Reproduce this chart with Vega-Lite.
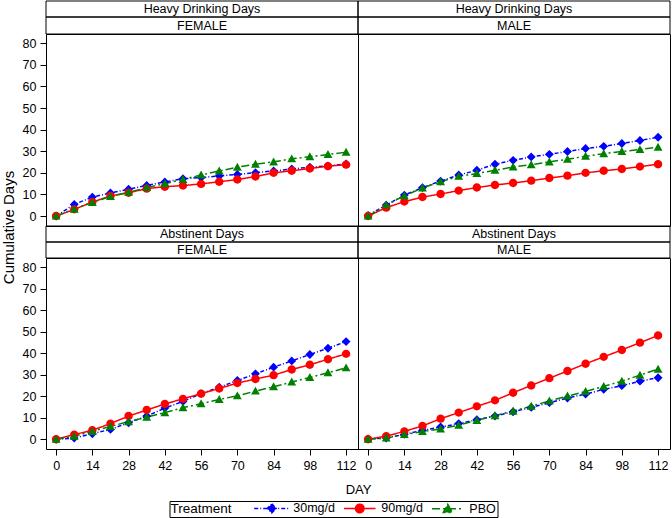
{
  "$schema": "https://vega.github.io/schema/vega-lite/v6.json",
  "padding": {"left": 0, "top": 0, "right": 2, "bottom": 0},
  "datasets": {
    "hdd_female": [
      {"trt": "30mg/d", "day": 0, "value": 0}, {"trt": "30mg/d", "day": 7, "value": 5.4}, {"trt": "30mg/d", "day": 14, "value": 8.8}, {"trt": "30mg/d", "day": 21, "value": 10.7}, {"trt": "30mg/d", "day": 28, "value": 12.4}, {"trt": "30mg/d", "day": 35, "value": 14.2}, {"trt": "30mg/d", "day": 42, "value": 15.8}, {"trt": "30mg/d", "day": 49, "value": 17.3}, {"trt": "30mg/d", "day": 56, "value": 17.8}, {"trt": "30mg/d", "day": 63, "value": 18.6}, {"trt": "30mg/d", "day": 70, "value": 19.3}, {"trt": "30mg/d", "day": 77, "value": 20.1}, {"trt": "30mg/d", "day": 84, "value": 20.9}, {"trt": "30mg/d", "day": 91, "value": 21.8}, {"trt": "30mg/d", "day": 98, "value": 22.6}, {"trt": "30mg/d", "day": 105, "value": 23.2}, {"trt": "30mg/d", "day": 112, "value": 24.1},
      {"trt": "90mg/d", "day": 0, "value": 0}, {"trt": "90mg/d", "day": 7, "value": 3.1}, {"trt": "90mg/d", "day": 14, "value": 6.5}, {"trt": "90mg/d", "day": 21, "value": 9.3}, {"trt": "90mg/d", "day": 28, "value": 10.8}, {"trt": "90mg/d", "day": 35, "value": 12.7}, {"trt": "90mg/d", "day": 42, "value": 13.6}, {"trt": "90mg/d", "day": 49, "value": 14.1}, {"trt": "90mg/d", "day": 56, "value": 14.9}, {"trt": "90mg/d", "day": 63, "value": 15.9}, {"trt": "90mg/d", "day": 70, "value": 16.9}, {"trt": "90mg/d", "day": 77, "value": 18.3}, {"trt": "90mg/d", "day": 84, "value": 20.0}, {"trt": "90mg/d", "day": 91, "value": 21.0}, {"trt": "90mg/d", "day": 98, "value": 22.0}, {"trt": "90mg/d", "day": 105, "value": 23.1}, {"trt": "90mg/d", "day": 112, "value": 23.8},
      {"trt": "PBO", "day": 0, "value": 0}, {"trt": "PBO", "day": 7, "value": 3.2}, {"trt": "PBO", "day": 14, "value": 6.3}, {"trt": "PBO", "day": 21, "value": 9.1}, {"trt": "PBO", "day": 28, "value": 11.0}, {"trt": "PBO", "day": 35, "value": 13.2}, {"trt": "PBO", "day": 42, "value": 15.0}, {"trt": "PBO", "day": 49, "value": 17.0}, {"trt": "PBO", "day": 56, "value": 19.0}, {"trt": "PBO", "day": 63, "value": 20.9}, {"trt": "PBO", "day": 70, "value": 22.6}, {"trt": "PBO", "day": 77, "value": 24.0}, {"trt": "PBO", "day": 84, "value": 25.1}, {"trt": "PBO", "day": 91, "value": 26.5}, {"trt": "PBO", "day": 98, "value": 27.5}, {"trt": "PBO", "day": 105, "value": 28.5}, {"trt": "PBO", "day": 112, "value": 29.6}
    ],
    "hdd_male": [
      {"trt": "30mg/d", "day": 0, "value": 0.3}, {"trt": "30mg/d", "day": 7, "value": 5.1}, {"trt": "30mg/d", "day": 14, "value": 9.7}, {"trt": "30mg/d", "day": 21, "value": 13.2}, {"trt": "30mg/d", "day": 28, "value": 16.2}, {"trt": "30mg/d", "day": 35, "value": 19.0}, {"trt": "30mg/d", "day": 42, "value": 21.2}, {"trt": "30mg/d", "day": 49, "value": 24.0}, {"trt": "30mg/d", "day": 56, "value": 25.8}, {"trt": "30mg/d", "day": 63, "value": 27.4}, {"trt": "30mg/d", "day": 70, "value": 28.6}, {"trt": "30mg/d", "day": 77, "value": 29.9}, {"trt": "30mg/d", "day": 84, "value": 31.3}, {"trt": "30mg/d", "day": 91, "value": 32.3}, {"trt": "30mg/d", "day": 98, "value": 33.6}, {"trt": "30mg/d", "day": 105, "value": 35.0}, {"trt": "30mg/d", "day": 112, "value": 36.5},
      {"trt": "90mg/d", "day": 0, "value": 0}, {"trt": "90mg/d", "day": 7, "value": 3.9}, {"trt": "90mg/d", "day": 14, "value": 6.7}, {"trt": "90mg/d", "day": 21, "value": 8.8}, {"trt": "90mg/d", "day": 28, "value": 10.2}, {"trt": "90mg/d", "day": 35, "value": 11.8}, {"trt": "90mg/d", "day": 42, "value": 13.2}, {"trt": "90mg/d", "day": 49, "value": 14.4}, {"trt": "90mg/d", "day": 56, "value": 15.3}, {"trt": "90mg/d", "day": 63, "value": 16.4}, {"trt": "90mg/d", "day": 70, "value": 17.6}, {"trt": "90mg/d", "day": 77, "value": 18.7}, {"trt": "90mg/d", "day": 84, "value": 20.0}, {"trt": "90mg/d", "day": 91, "value": 21.0}, {"trt": "90mg/d", "day": 98, "value": 21.8}, {"trt": "90mg/d", "day": 105, "value": 22.9}, {"trt": "90mg/d", "day": 112, "value": 24.0},
      {"trt": "PBO", "day": 0, "value": 0}, {"trt": "PBO", "day": 7, "value": 5.1}, {"trt": "PBO", "day": 14, "value": 9.4}, {"trt": "PBO", "day": 21, "value": 13.0}, {"trt": "PBO", "day": 28, "value": 15.9}, {"trt": "PBO", "day": 35, "value": 18.4}, {"trt": "PBO", "day": 42, "value": 19.7}, {"trt": "PBO", "day": 49, "value": 21.2}, {"trt": "PBO", "day": 56, "value": 22.7}, {"trt": "PBO", "day": 63, "value": 23.8}, {"trt": "PBO", "day": 70, "value": 25.1}, {"trt": "PBO", "day": 77, "value": 26.3}, {"trt": "PBO", "day": 84, "value": 27.7}, {"trt": "PBO", "day": 91, "value": 28.9}, {"trt": "PBO", "day": 98, "value": 29.9}, {"trt": "PBO", "day": 105, "value": 30.8}, {"trt": "PBO", "day": 112, "value": 31.9}
    ],
    "ad_female": [
      {"trt": "30mg/d", "day": 0, "value": 0}, {"trt": "30mg/d", "day": 7, "value": 0.6}, {"trt": "30mg/d", "day": 14, "value": 2.6}, {"trt": "30mg/d", "day": 21, "value": 4.6}, {"trt": "30mg/d", "day": 28, "value": 7.7}, {"trt": "30mg/d", "day": 35, "value": 10.8}, {"trt": "30mg/d", "day": 42, "value": 14.5}, {"trt": "30mg/d", "day": 49, "value": 17.6}, {"trt": "30mg/d", "day": 56, "value": 21.2}, {"trt": "30mg/d", "day": 63, "value": 24.2}, {"trt": "30mg/d", "day": 70, "value": 27.3}, {"trt": "30mg/d", "day": 77, "value": 30.4}, {"trt": "30mg/d", "day": 84, "value": 33.5}, {"trt": "30mg/d", "day": 91, "value": 36.4}, {"trt": "30mg/d", "day": 98, "value": 39.4}, {"trt": "30mg/d", "day": 105, "value": 42.3}, {"trt": "30mg/d", "day": 112, "value": 45.4},
      {"trt": "90mg/d", "day": 0, "value": 0}, {"trt": "90mg/d", "day": 7, "value": 2.2}, {"trt": "90mg/d", "day": 14, "value": 4.2}, {"trt": "90mg/d", "day": 21, "value": 7.3}, {"trt": "90mg/d", "day": 28, "value": 10.8}, {"trt": "90mg/d", "day": 35, "value": 13.6}, {"trt": "90mg/d", "day": 42, "value": 16.4}, {"trt": "90mg/d", "day": 49, "value": 18.8}, {"trt": "90mg/d", "day": 56, "value": 21.2}, {"trt": "90mg/d", "day": 63, "value": 23.6}, {"trt": "90mg/d", "day": 70, "value": 26.1}, {"trt": "90mg/d", "day": 77, "value": 28.0}, {"trt": "90mg/d", "day": 84, "value": 29.8}, {"trt": "90mg/d", "day": 91, "value": 32.4}, {"trt": "90mg/d", "day": 98, "value": 34.6}, {"trt": "90mg/d", "day": 105, "value": 37.2}, {"trt": "90mg/d", "day": 112, "value": 39.7},
      {"trt": "PBO", "day": 0, "value": 0}, {"trt": "PBO", "day": 7, "value": 1.4}, {"trt": "PBO", "day": 14, "value": 3.7}, {"trt": "PBO", "day": 21, "value": 6.0}, {"trt": "PBO", "day": 28, "value": 8.2}, {"trt": "PBO", "day": 35, "value": 10.3}, {"trt": "PBO", "day": 42, "value": 12.4}, {"trt": "PBO", "day": 49, "value": 14.7}, {"trt": "PBO", "day": 56, "value": 16.5}, {"trt": "PBO", "day": 63, "value": 18.5}, {"trt": "PBO", "day": 70, "value": 20.2}, {"trt": "PBO", "day": 77, "value": 22.4}, {"trt": "PBO", "day": 84, "value": 24.4}, {"trt": "PBO", "day": 91, "value": 26.6}, {"trt": "PBO", "day": 98, "value": 28.7}, {"trt": "PBO", "day": 105, "value": 30.9}, {"trt": "PBO", "day": 112, "value": 33.2}
    ],
    "ad_male": [
      {"trt": "30mg/d", "day": 0, "value": 0.2}, {"trt": "30mg/d", "day": 7, "value": 0.6}, {"trt": "30mg/d", "day": 14, "value": 2.3}, {"trt": "30mg/d", "day": 21, "value": 4.2}, {"trt": "30mg/d", "day": 28, "value": 5.7}, {"trt": "30mg/d", "day": 35, "value": 7.3}, {"trt": "30mg/d", "day": 42, "value": 9.1}, {"trt": "30mg/d", "day": 49, "value": 10.8}, {"trt": "30mg/d", "day": 56, "value": 12.8}, {"trt": "30mg/d", "day": 63, "value": 14.8}, {"trt": "30mg/d", "day": 70, "value": 17.0}, {"trt": "30mg/d", "day": 77, "value": 19.2}, {"trt": "30mg/d", "day": 84, "value": 21.0}, {"trt": "30mg/d", "day": 91, "value": 23.2}, {"trt": "30mg/d", "day": 98, "value": 24.9}, {"trt": "30mg/d", "day": 105, "value": 27.0}, {"trt": "30mg/d", "day": 112, "value": 28.6},
      {"trt": "90mg/d", "day": 0, "value": 0}, {"trt": "90mg/d", "day": 7, "value": 1.5}, {"trt": "90mg/d", "day": 14, "value": 3.7}, {"trt": "90mg/d", "day": 21, "value": 6.2}, {"trt": "90mg/d", "day": 28, "value": 9.6}, {"trt": "90mg/d", "day": 35, "value": 12.4}, {"trt": "90mg/d", "day": 42, "value": 15.3}, {"trt": "90mg/d", "day": 49, "value": 18.1}, {"trt": "90mg/d", "day": 56, "value": 21.6}, {"trt": "90mg/d", "day": 63, "value": 25.0}, {"trt": "90mg/d", "day": 70, "value": 28.4}, {"trt": "90mg/d", "day": 77, "value": 31.7}, {"trt": "90mg/d", "day": 84, "value": 35.1}, {"trt": "90mg/d", "day": 91, "value": 38.3}, {"trt": "90mg/d", "day": 98, "value": 41.5}, {"trt": "90mg/d", "day": 105, "value": 44.9}, {"trt": "90mg/d", "day": 112, "value": 48.2},
      {"trt": "PBO", "day": 0, "value": 0}, {"trt": "PBO", "day": 7, "value": 0.6}, {"trt": "PBO", "day": 14, "value": 2.2}, {"trt": "PBO", "day": 21, "value": 3.6}, {"trt": "PBO", "day": 28, "value": 4.8}, {"trt": "PBO", "day": 35, "value": 6.6}, {"trt": "PBO", "day": 42, "value": 8.8}, {"trt": "PBO", "day": 49, "value": 11.0}, {"trt": "PBO", "day": 56, "value": 13.1}, {"trt": "PBO", "day": 63, "value": 15.4}, {"trt": "PBO", "day": 70, "value": 17.8}, {"trt": "PBO", "day": 77, "value": 20.1}, {"trt": "PBO", "day": 84, "value": 22.2}, {"trt": "PBO", "day": 91, "value": 24.6}, {"trt": "PBO", "day": 98, "value": 27.0}, {"trt": "PBO", "day": 105, "value": 29.8}, {"trt": "PBO", "day": 112, "value": 32.6}
    ]
  },
  "columns": 2,
  "spacing": 0,
  "align": "each",
  "bounds": "flush",
  "concat": [
    {"data": {"values": [{"label": "Heavy Drinking Days"}]}, "width": 312, "height": 16, "layer": [{"mark": {"type": "rect", "fill": "transparent", "stroke": "#000", "strokeWidth": 1}, "encoding": {}}, {"mark": "text", "encoding": {"text": {"field": "label", "type": "nominal"}}}]},
    {"data": {"values": [{"label": "Heavy Drinking Days"}]}, "width": 312, "height": 16, "layer": [{"mark": {"type": "rect", "fill": "transparent", "stroke": "#000", "strokeWidth": 1}, "encoding": {}}, {"mark": "text", "encoding": {"text": {"field": "label", "type": "nominal"}}}]},
    {"data": {"values": [{"label": "FEMALE"}]}, "width": 312, "height": 17, "layer": [{"mark": {"type": "rect", "fill": "transparent", "stroke": "#000", "strokeWidth": 1}, "encoding": {}}, {"mark": "text", "encoding": {"text": {"field": "label", "type": "nominal"}}}]},
    {"data": {"values": [{"label": "MALE"}]}, "width": 312, "height": 17, "layer": [{"mark": {"type": "rect", "fill": "transparent", "stroke": "#000", "strokeWidth": 1}, "encoding": {}}, {"mark": "text", "encoding": {"text": {"field": "label", "type": "nominal"}}}]},
    {
      "data": {"name": "hdd_female"},
      "width": 312, "height": 192,
      "encoding": {
        "x": {"field": "day", "type": "quantitative", "scale": {"domain": [-3.9, 116.6], "nice": false, "zero": false}, "axis": null},
        "y": {"field": "value", "type": "quantitative", "scale": {"domain": [-4.6, 84.3], "nice": false}, "axis": {"values": [0, 10, 20, 30, 40, 50, 60, 70, 80], "title": "Cumulative Days", "titleX": -38, "titleY": 193, "titleBaseline": "middle", "titleAlign": "center", "titleFontSize": 15}},
        "color": {
          "field": "trt", "type": "nominal", "title": "Treatment",
          "scale": {"domain": ["30mg/d", "90mg/d", "PBO"], "range": ["#0000ff", "#ff0000", "#008000"]},
          "legend": {
            "orient": "none", "legendX": 123.5, "legendY": 500, "direction": "horizontal", "titleOrient": "left",
            "strokeColor": "#000", "padding": 1, "titleFontSize": 13.5, "titleFontWeight": "normal", "titleColor": "#000",
            "titlePadding": 33, "labelFontSize": 12.5, "labelColor": "#000", "labelOffset": 15.3, "columnPadding": 5,
            "symbolSize": 81, "symbolStrokeWidth": 1.5, "symbolOpacity": 1
          }
        }
      },
      "layer": [
        {"mark": {"type": "line", "strokeWidth": 1.5}, "encoding": {"strokeDash": {"field": "trt", "type": "nominal", "title": "Treatment", "scale": {"domain": ["30mg/d", "90mg/d", "PBO"], "range": [[4, 2, 1, 2], [1, 0], [8, 3, 2, 3]]}}}},
        {"mark": {"type": "point", "filled": true, "opacity": 1, "size": 78}, "encoding": {"shape": {"field": "trt", "type": "nominal", "title": "Treatment", "scale": {"domain": ["30mg/d", "90mg/d", "PBO"], "range": ["M-3.9,0L3.9,0M0,-1L1,0L0,1L-1,0Z", "M-3.5,0L3.5,0M-0.95,0A0.95,0.95,0,1,1,0.95,0A0.95,0.95,0,1,1,-0.95,0Z", "M-3.5,0L3.5,0M0,-1L1,0.8L-1,0.8Z"]}}}}
      ]
    },
    {
      "data": {"name": "hdd_male"},
      "width": 312, "height": 192,
      "encoding": {
        "x": {"field": "day", "type": "quantitative", "scale": {"domain": [-3.9, 116.6], "nice": false, "zero": false}, "axis": null},
        "y": {"field": "value", "type": "quantitative", "scale": {"domain": [-4.6, 84.3], "nice": false}, "axis": null},
        "color": {"field": "trt", "type": "nominal", "title": "Treatment"}
      },
      "layer": [
        {"mark": {"type": "line", "strokeWidth": 1.5}, "encoding": {"strokeDash": {"field": "trt", "type": "nominal", "title": "Treatment"}}},
        {"mark": {"type": "point", "filled": true, "opacity": 1, "size": 78}, "encoding": {"shape": {"field": "trt", "type": "nominal", "title": "Treatment"}}}
      ]
    },
    {"data": {"values": [{"label": "Abstinent Days"}]}, "width": 312, "height": 16, "layer": [{"mark": {"type": "rect", "fill": "transparent", "stroke": "#000", "strokeWidth": 1}, "encoding": {}}, {"mark": "text", "encoding": {"text": {"field": "label", "type": "nominal"}}}]},
    {"data": {"values": [{"label": "Abstinent Days"}]}, "width": 312, "height": 16, "layer": [{"mark": {"type": "rect", "fill": "transparent", "stroke": "#000", "strokeWidth": 1}, "encoding": {}}, {"mark": "text", "encoding": {"text": {"field": "label", "type": "nominal"}}}]},
    {"data": {"values": [{"label": "FEMALE"}]}, "width": 312, "height": 16, "layer": [{"mark": {"type": "rect", "fill": "transparent", "stroke": "#000", "strokeWidth": 1}, "encoding": {}}, {"mark": "text", "encoding": {"text": {"field": "label", "type": "nominal"}}}]},
    {"data": {"values": [{"label": "MALE"}]}, "width": 312, "height": 16, "layer": [{"mark": {"type": "rect", "fill": "transparent", "stroke": "#000", "strokeWidth": 1}, "encoding": {}}, {"mark": "text", "encoding": {"text": {"field": "label", "type": "nominal"}}}]},
    {
      "data": {"name": "ad_female"},
      "width": 312, "height": 191,
      "encoding": {
        "x": {"field": "day", "type": "quantitative", "scale": {"domain": [-3.9, 116.6], "nice": false, "zero": false}, "axis": {"values": [0, 14, 28, 42, 56, 70, 84, 98, 112], "title": "DAY", "titleX": 312, "titleY": 34, "titleBaseline": "top", "titleFontSize": 13}},
        "y": {"field": "value", "type": "quantitative", "scale": {"domain": [-4.5, 84.2], "nice": false}, "axis": {"values": [0, 10, 20, 30, 40, 50, 60, 70, 80], "title": null}},
        "color": {"field": "trt", "type": "nominal", "title": "Treatment"}
      },
      "layer": [
        {"mark": {"type": "line", "strokeWidth": 1.5}, "encoding": {"strokeDash": {"field": "trt", "type": "nominal", "title": "Treatment"}}},
        {"mark": {"type": "point", "filled": true, "opacity": 1, "size": 78}, "encoding": {"shape": {"field": "trt", "type": "nominal", "title": "Treatment"}}}
      ]
    },
    {
      "data": {"name": "ad_male"},
      "width": 312, "height": 191,
      "encoding": {
        "x": {"field": "day", "type": "quantitative", "scale": {"domain": [-3.9, 116.6], "nice": false, "zero": false}, "axis": {"values": [0, 14, 28, 42, 56, 70, 84, 98, 112], "title": null}},
        "y": {"field": "value", "type": "quantitative", "scale": {"domain": [-4.5, 84.2], "nice": false}, "axis": null},
        "color": {"field": "trt", "type": "nominal", "title": "Treatment"}
      },
      "layer": [
        {"mark": {"type": "line", "strokeWidth": 1.5}, "encoding": {"strokeDash": {"field": "trt", "type": "nominal", "title": "Treatment"}}},
        {"mark": {"type": "point", "filled": true, "opacity": 1, "size": 78}, "encoding": {"shape": {"field": "trt", "type": "nominal", "title": "Treatment"}}}
      ]
    }
  ],
  "config": {
    "font": "Liberation Sans",
    "view": {"stroke": "#000", "strokeWidth": 1},
    "text": {"fontSize": 12.5, "color": "#000"},
    "axis": {"grid": false, "domain": false, "labelFlush": false, "tickColor": "#000", "tickSize": 6, "labelColor": "#000", "labelFontSize": 12.5, "labelPadding": 4, "titleColor": "#000", "titleFontWeight": "normal"},
    "axisY": {"titleFontSize": 15},
    "axisX": {"titleFontSize": 13}
  }
}
